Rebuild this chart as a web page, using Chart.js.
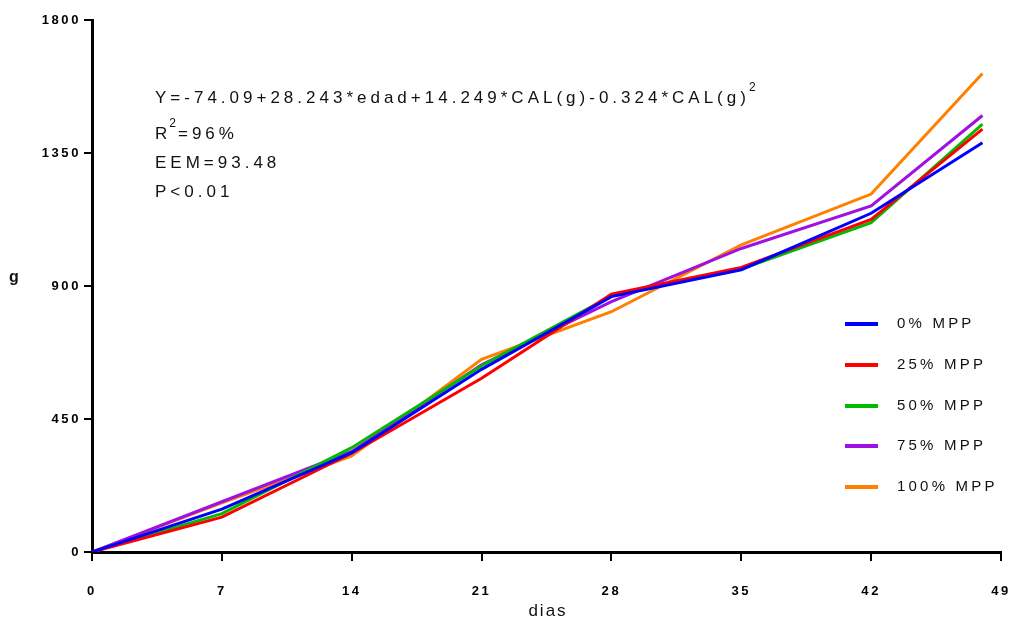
<!DOCTYPE html>
<html>
<head>
<meta charset="utf-8">
<script src="https://cdn.jsdelivr.net/npm/chart.js@4/dist/chart.umd.min.js"></script>
<style>
html,body{margin:0;padding:0;background:#fff;}
#wrap{width:1014px;height:620px;position:relative;}
</style>
</head>
<body>
<div id="wrap"><canvas id="c" width="1014" height="620"></canvas></div>
<script>
// ---- data ----
const days = [0, 7, 14, 21, 28, 35, 42, 48];
const mpp0   = [0, 145, 336, 618, 864, 955, 1146, 1385];
const mpp25  = [0, 118, 334, 588, 872, 963, 1125, 1431];
const mpp50  = [0, 130, 353, 630, 866, 957, 1114, 1448];
const mpp75  = [0, 170, 340, 633, 847, 1027, 1171, 1477];
const mpp100 = [0, 166, 325, 652, 813, 1039, 1211, 1619];
const seriesLabels = ['0% MPP', '25% MPP', '50% MPP', '75% MPP', '100% MPP'];
const seriesValues = [mpp0, mpp25, mpp50, mpp75, mpp100];
const seriesColors = ['#0000ff', '#ff0000', '#00bb00', '#a010e0', '#ff8000'];
const xTicks = [0, 7, 14, 21, 28, 35, 42, 49];
const yTicks = [0, 450, 900, 1350, 1800];
const eqLines = ['Y=-74.09+28.243*edad+14.249*CAL(g)-0.324*CAL(g)', 'R', 'EEM=93.48', 'P<0.01'];

const FONT = '"Liberation Sans", Arial, Helvetica, sans-serif';

const datasets = seriesLabels.map((lab, i) => ({
  label: lab,
  data: days.map((d, j) => ({x: d, y: seriesValues[i][j]})),
  borderColor: seriesColors[i],
  backgroundColor: seriesColors[i],
  borderWidth: 3,
  pointRadius: 0,
  tension: 0,
  fill: false
}));

function sp(ctx, s) { ctx.letterSpacing = s; }

const decor = {
  id: 'decor',
  beforeDraw(chart) {
    chart.ctx.letterSpacing = '2.6px';
  },
  afterDraw(chart) {
    const ctx = chart.ctx;
    ctx.save();
    ctx.fillStyle = '#111';
    ctx.textBaseline = 'middle';
    ctx.textAlign = 'left';
    // equation block
    const x0 = 155;
    ctx.font = '17px ' + FONT; sp(ctx, '4px');
    ctx.fillText(eqLines[0], x0, 98);
    let w = ctx.measureText(eqLines[0]).width;
    ctx.font = '12px ' + FONT; sp(ctx, '1px');
    ctx.fillText('2', x0 + w - 1, 88);
    // R^2 line
    ctx.font = '17px ' + FONT; sp(ctx, '4px');
    ctx.fillText('R', x0, 134);
    w = ctx.measureText('R').width;
    ctx.font = '12px ' + FONT; sp(ctx, '1px');
    ctx.fillText('2', x0 + w - 2, 124);
    let w2 = ctx.measureText('2').width;
    ctx.font = '17px ' + FONT; sp(ctx, '4px');
    ctx.fillText('=96%', x0 + w + w2 - 1, 134);
    ctx.fillText(eqLines[2], x0, 163);
    ctx.fillText(eqLines[3], x0, 192);

    // legend
    const ly = [324, 365, 406, 446, 487];
    seriesLabels.forEach((lab, i) => {
      ctx.strokeStyle = seriesColors[i];
      ctx.lineWidth = 4;
      ctx.beginPath();
      ctx.moveTo(845, ly[i]);
      ctx.lineTo(878, ly[i]);
      ctx.stroke();
      ctx.font = '15px ' + FONT; sp(ctx, '3.2px');
      ctx.fillStyle = '#111';
      ctx.fillText(lab, 897, ly[i]);
    });

    // axis titles
    ctx.font = '17px ' + FONT; sp(ctx, '2px');
    ctx.textAlign = 'center';
    ctx.fillText('dias', 548, 611);
    ctx.font = 'bold 16px ' + FONT; sp(ctx, '0px');
    ctx.textAlign = 'left';
    ctx.fillText('g', 9, 278);
    ctx.restore();
  }
};

new Chart(document.getElementById('c'), {
  type: 'line',
  data: { datasets },
  plugins: [decor],
  options: {
    responsive: false,
    animation: false,
    events: [],
    layout: { padding: { top: 20, right: 13, left: 0, bottom: 0 } },
    plugins: { legend: { display: false }, tooltip: { enabled: false } },
    scales: {
      x: {
        type: 'linear',
        min: 0, max: 49,
        afterBuildTicks: s => { s.ticks = xTicks.map(v => ({value: v})); },
        afterFit: s => { s.height = 68; s.paddingRight = 0; s.paddingLeft = 0; },
        border: { display: true, color: '#000', width: 3 },
        grid: { display: true, drawOnChartArea: false, drawTicks: true, tickLength: 9, color: '#000', lineWidth: 2 },
        ticks: { color: '#000', padding: 23, maxRotation: 0, autoSkip: false,
                 callback: v => String(v),
                 font: { family: FONT, size: 13, weight: 'bold' } }
      },
      y: {
        type: 'linear',
        min: 0, max: 1800,
        afterBuildTicks: s => { s.ticks = yTicks.map(v => ({value: v})); },
        afterFit: s => { s.width = 92; s.paddingTop = 0; s.paddingBottom = 0; },
        border: { display: true, color: '#000', width: 3 },
        grid: { display: true, drawOnChartArea: false, drawTicks: true, tickLength: 8, color: '#000', lineWidth: 2 },
        ticks: { color: '#000', padding: 3, autoSkip: false,
                 callback: v => String(v),
                 font: { family: FONT, size: 13, weight: 'bold' } }
      }
    }
  }
});
</script>
</body>
</html>
